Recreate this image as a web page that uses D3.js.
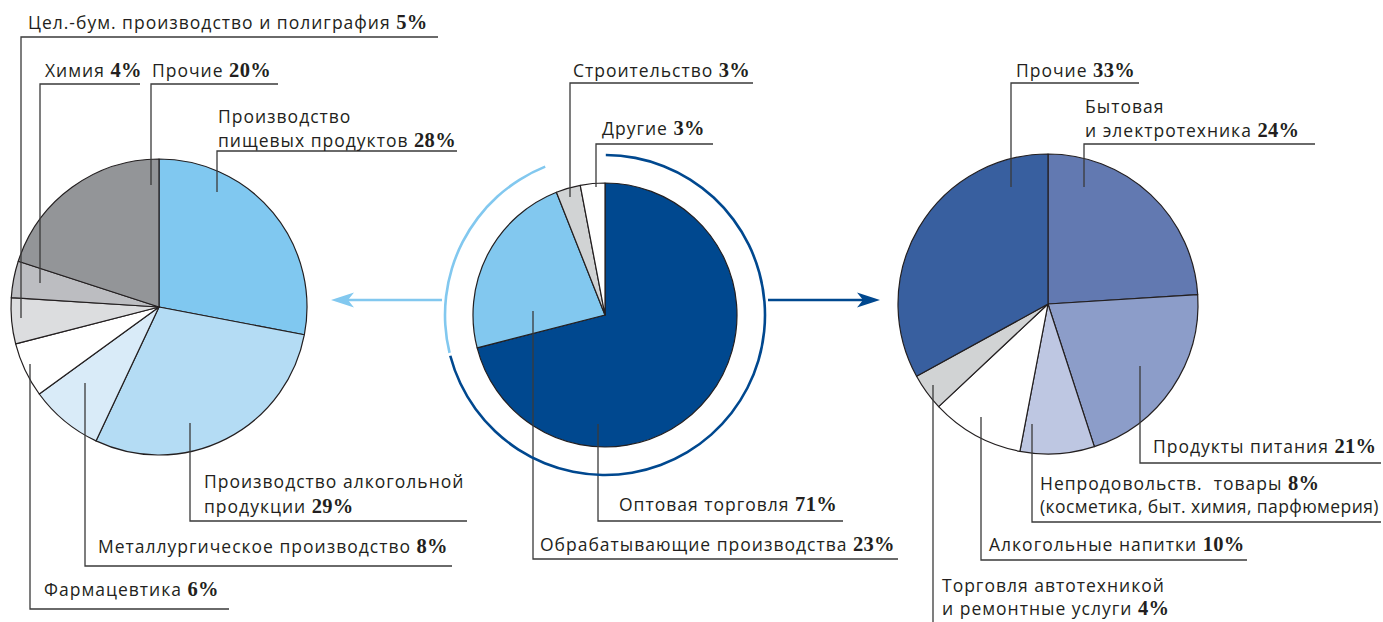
<!DOCTYPE html>
<html>
<head>
<meta charset="utf-8">
<script src="https://cdn.jsdelivr.net/npm/d3@7"></script>
<style>
  body { margin: 0; background: #fff; }
  svg { display: block; }
  text { white-space: pre; }
</style>
</head>
<body>
<div class="chart"></div>
<script>
// ---- data ----
const leftNames = ["Производство\nпищевых продуктов", "Производство алкогольной\nпродукции",
  "Металлургическое производство", "Фармацевтика",
  "Цел.-бум. производство и полиграфия", "Химия", "Прочие"];
const leftValues = [28, 29, 8, 6, 5, 4, 20];

const centerNames = ["Оптовая торговля", "Обрабатывающие производства", "Строительство", "Другие"];
const centerValues = [71, 23, 3, 3];

const rightNames = ["Бытовая\nи электротехника", "Продукты питания", "Непродовольств.  товары",
  "Алкогольные напитки", "Торговля автотехникой\nи ремонтные услуги", "Прочие"];
const rightValues = [24, 21, 8, 10, 4, 33];
const rightNotes = ["", "", "(косметика, быт. химия, парфюмерия)", "", "", ""];

// palettes
const leftColors = ["#80c8f0", "#b4dcf4", "#d9ebf8", "#ffffff", "#dcdddf", "#bcbdc1", "#939598"];
const centerColors = ["#00488f", "#82c8ef", "#d1d3d4", "#ffffff"];
const rightColors = ["#6279b1", "#8c9dc9", "#bec7e2", "#ffffff", "#d1d3d4", "#385f9f"];

// label layout: text x, first baseline y, line height, leader x, underline y, underline end, leader end y
const leftLayout = [
  {x: 218, y: 123, lh: 24, vx: 217, uy: 151, ux2: 457, ey: 192},
  {x: 204, y: 488, lh: 25, vx: 190, uy: 521, ux2: 467, ey: 423},
  {x: 98,  y: 553, lh: 24, vx: 85,  uy: 566, ux2: 452, ey: 383},
  {x: 44,  y: 596, lh: 24, vx: 30,  uy: 609, ux2: 229, ey: 364},
  {x: 28,  y: 29,  lh: 24, vx: 21,  uy: 37,  ux2: 438, ey: 318},
  {x: 45,  y: 77,  lh: 24, vx: 40,  uy: 84,  ux2: 140, ey: 283},
  {x: 152, y: 77,  lh: 24, vx: 151, uy: 84,  ux2: 278, ey: 185}
];
const centerLayout = [
  {x: 619, y: 511, lh: 24, vx: 598, uy: 521, ux2: 843, ey: 424},
  {x: 540, y: 551, lh: 24, vx: 533, uy: 559, ux2: 898, ey: 311},
  {x: 573, y: 77,  lh: 24, vx: 570, uy: 83,  ux2: 753, ey: 197},
  {x: 602, y: 135, lh: 24, vx: 596, uy: 144, ux2: 713, ey: 187}
];
const rightLayout = [
  {x: 1085, y: 113, lh: 24, vx: 1084, uy: 144, ux2: 1315, ey: 187},
  {x: 1153, y: 453, lh: 24, vx: 1140, uy: 463, ux2: 1381, ey: 366},
  {x: 1040, y: 490, lh: 23, vx: 1032, uy: 522, ux2: 1381, ey: 424},
  {x: 989,  y: 551, lh: 24, vx: 981,  uy: 560, ux2: 1247, ey: 417},
  {x: 942,  y: 592, lh: 23, vx: 933,  uy: 640, ux2: null, ey: 385},
  {x: 1016, y: 77,  lh: 24, vx: 1011, uy: 83,  ux2: 1139, ey: 187}
];

const width = 1383, height = 622;
const textColor = "#231f20";
const lineColor = "#3a3a3a";

const svg = d3.select(".chart").append("svg")
  .attr("width", width)
  .attr("height", height)
  .attr("viewBox", [0, 0, width, height]);

function drawPie(names, values, colors, layout, notes, {cx, cy, r}) {
  const arcs = d3.pie().sort(null).value(d => d)(values);
  const arc = d3.arc().innerRadius(0).outerRadius(r);

  const g = svg.append("g").attr("transform", `translate(${cx},${cy})`);
  g.append("g")
    .attr("stroke", "#231f20")
    .attr("stroke-width", 1.2)
    .attr("stroke-linejoin", "round")
    .selectAll("path")
    .data(arcs)
    .join("path")
    .attr("fill", (d, i) => colors[i])
    .attr("d", arc);

  // leader lines
  svg.append("g")
    .attr("fill", "none")
    .attr("stroke", lineColor)
    .attr("stroke-width", 1.3)
    .selectAll("path")
    .data(layout)
    .join("path")
    .attr("d", L => L.ux2 == null
      ? `M${L.vx},${L.ey}V${L.uy}`
      : `M${L.vx},${L.ey}V${L.uy}H${L.ux2}`);

  // labels
  names.forEach((name, i) => {
    const L = layout[i];
    const lines = name.split("\n");
    const g2 = svg.append("g")
      .attr("font-family", "'Open Sans', sans-serif")
      .attr("font-size", 17.5)
      .attr("letter-spacing", 1)
      .attr("fill", textColor);
    lines.forEach((line, j) => {
      const t = g2.append("text").attr("x", L.x).attr("y", L.y + j * L.lh);
      t.append("tspan").text(line + " ");
      if (j === lines.length - 1) {
        t.append("tspan")
          .attr("font-family", "'Liberation Serif', serif")
          .attr("font-weight", "bold")
          .attr("font-size", 20.5)
          .attr("letter-spacing", 0.3)
          .text(values[i] + "%");
      }
    });
    if (notes && notes[i]) {
      g2.append("text")
        .attr("x", L.x)
        .attr("y", L.y + lines.length * L.lh)
        .attr("letter-spacing", 0.4)
        .text(notes[i]);
    }
  });
  return arcs;
}

drawPie(leftNames, leftValues, leftColors, leftLayout, null, {cx: 159, cy: 307, r: 148});
const centerArcs = drawPie(centerNames, centerValues, centerColors, centerLayout, null, {cx: 605, cy: 315, r: 132});
drawPie(rightNames, rightValues, rightColors, rightLayout, rightNotes, {cx: 1048, cy: 304, r: 150});

// ring around the central pie, one arc per main slice
const ringR = 160, gap = 0.012;
const ring = d3.arc().innerRadius(ringR - 1.3).outerRadius(ringR + 1.3);
svg.append("g")
  .attr("transform", "translate(605,315)")
  .selectAll("path")
  .data(centerArcs.slice(0, 2))
  .join("path")
  .attr("fill", (d, i) => centerColors[i])
  .attr("d", d => ring({startAngle: d.startAngle + (d.index === 0 ? 0.005 : gap), endAngle: d.endAngle - gap / 2}));

// arrows
function arrow(x1, x2, y, color) {
  const dir = Math.sign(x2 - x1);
  svg.append("line")
    .attr("x1", x1).attr("x2", x2 - dir * 16)
    .attr("y1", y).attr("y2", y)
    .attr("stroke", color)
    .attr("stroke-width", 2.6);
  svg.append("path")
    .attr("fill", color)
    .attr("d", `M${x2},${y}L${x2 - dir * 23},${y - 7.5}L${x2 - dir * 17},${y}L${x2 - dir * 23},${y + 7.5}Z`);
}
arrow(442, 331, 300, centerColors[1]);
arrow(768, 880, 300, centerColors[0]);
</script>
</body>
</html>
